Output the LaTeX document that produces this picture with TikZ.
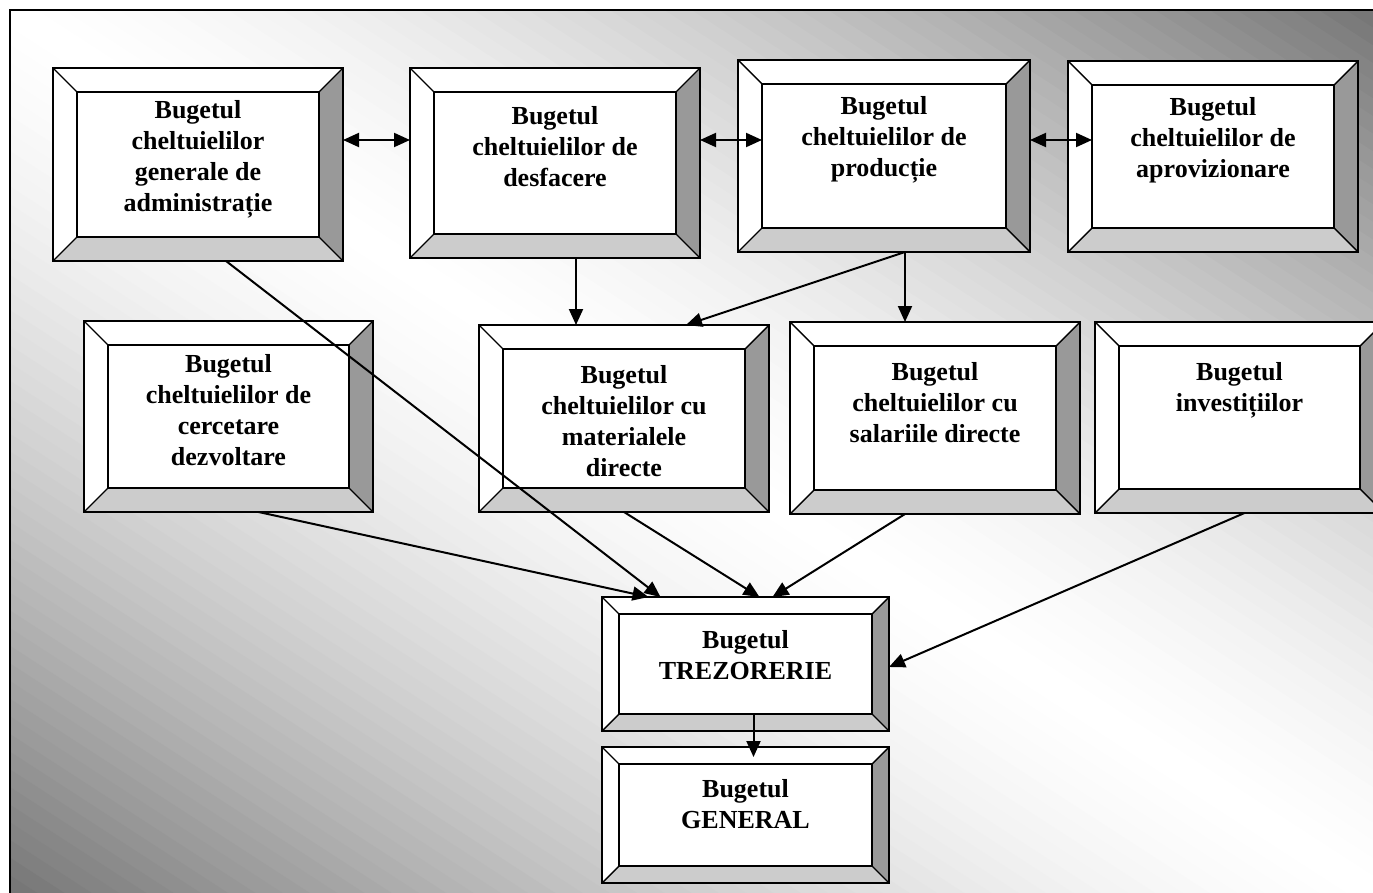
\documentclass[tikz,border=0pt]{standalone}
\usepackage{fontspec}
\setmainfont{Liberation Serif}
\usetikzlibrary{calc,arrows.meta}

\definecolor{bgdark}{gray}{0.46}
\definecolor{bevelside}{HTML}{999999}
\definecolor{bevelbottom}{HTML}{CCCCCC}

\tikzset{
  boxshape/.style={rectangle, draw=none, inner sep=0pt, outer sep=0pt},
  boxline/.style={draw=black, line width=2pt},
  bevelline/.style={draw=black, line width=1.4pt},
  boxtext/.style={inner sep=0pt, outer sep=0pt, align=center,
    font=\bfseries\fontsize{26}{31}\selectfont},
  flow/.style={draw=black, line width=2pt, -{Triangle[length=16pt,width=14pt]}},
  twoway/.style={draw=black, line width=2pt,
    {Triangle[length=16pt,width=14pt]}-{Triangle[length=16pt,width=14pt]}},
}

% \bevelbox{name}{x1}{y1}{x2}{y2}{bevel}{text drop}{text}
\newcommand{\bevelbox}[8]{%
  \node[boxshape, minimum width={#4-#2}, minimum height={#5-#3}]
    (#1) at ({(#2+#4)/2},{(#3+#5)/2}) {};
  \node[boxshape, minimum width={#4-#2-2*#6}, minimum height={#5-#3-2*#6}]
    (#1-in) at (#1.center) {};
  \fill[white] (#1.north west) rectangle (#1.south east);
  \fill[bevelside] (#1.north east) -- (#1.south east) -- (#1-in.south east) -- (#1-in.north east) -- cycle;
  \fill[bevelbottom] (#1.south west) -- (#1.south east) -- (#1-in.south east) -- (#1-in.south west) -- cycle;
  \draw[bevelline] (#1.north west) -- (#1-in.north west)
                   (#1.north east) -- (#1-in.north east)
                   (#1.south east) -- (#1-in.south east)
                   (#1.south west) -- (#1-in.south west);
  \draw[boxline] (#1.north west) rectangle (#1.south east);
  \draw[boxline] (#1-in.north west) rectangle (#1-in.south east);
  \node[boxtext, anchor=north] (#1-t) at ([yshift=-#7pt]#1-in.north) {#8};
}

\begin{document}
\begin{tikzpicture}[x=1pt, y=-1pt]
  \path[use as bounding box] (0,0) rectangle (1373,893);
  \clip (0,0) rectangle (1373,893);

  % background panel: light along the main diagonal, darker towards
  % the top-right and bottom-left corners
  \begin{scope}
    \clip (10,10) rectangle (1373,893);
    \foreach \i in {0,...,99} {
      \pgfmathsetmacro{\sa}{-883+\i*17.66}
      \pgfmathsetmacro{\sb}{\sa+18.6}
      \pgfmathsetmacro{\p}{100*(abs(\sa+8.83)/883)^1.5}
      \fill[bgdark!\p!white]
        (0,{3.52+\sa}) -- (1400,{910.5+\sa}) -- (1400,{910.5+\sb}) -- (0,{3.52+\sb}) -- cycle;
    }
  \end{scope}
  \draw[line width=2.5pt] (10,893) -- (10,10) -- (1373,10);

  % first row
  \bevelbox{adm}{53}{68}{343}{261}{24}{8}{Bugetul\\cheltuielilor\\generale de\\administrație}
  \bevelbox{desf}{410}{68}{700}{258}{24}{14}{Bugetul\\cheltuielilor de\\desfacere}
  \bevelbox{prod}{738}{60}{1030}{252}{24}{12}{Bugetul\\cheltuielilor de\\producție}
  \bevelbox{aprov}{1068}{61}{1358}{252}{24}{12}{Bugetul\\cheltuielilor de\\aprovizionare}

  % second row
  \bevelbox{cerc}{84}{321}{373}{512}{24}{9}{Bugetul\\cheltuielilor de\\cercetare\\dezvoltare}
  \bevelbox{mat}{479}{325}{769}{512}{24}{16}{Bugetul\\cheltuielilor cu\\materialele\\directe}
  \bevelbox{sal}{790}{322}{1080}{514}{24}{16}{Bugetul\\cheltuielilor cu\\salariile directe}
  \bevelbox{inv}{1095}{322}{1384}{513}{24}{16}{Bugetul\\investițiilor}

  % bottom column
  \bevelbox{trez}{602}{597}{889}{731}{17}{16}{Bugetul\\TREZORERIE}
  \bevelbox{gen}{602}{747}{889}{883}{17}{15}{Bugetul\\GENERAL}

  % links between the first-row budgets
  \coordinate (rowA) at (0,140);
  \draw[twoway] (adm.east |- rowA) -- (desf.west |- rowA);
  \draw[twoway] (desf.east |- rowA) -- (prod-in.west |- rowA);
  \draw[twoway] (prod.east |- rowA) -- (aprov-in.west |- rowA);

  % first row to second row
  \draw[flow] ([xshift=21pt]desf.south) -- ([xshift=21pt]desf.south |- mat.north);
  \draw[flow] ([xshift=21pt]prod.south) -- ([xshift=62pt]mat.north);
  \draw[flow] ([xshift=21pt]prod.south) -- ([xshift=21pt]prod.south |- sal.north);

  % into the treasury budget
  \draw[flow] ([xshift=28pt]adm.south) -- ([xshift=-85pt]trez.north);
  \draw[flow] ([xshift=30pt]cerc.south) -- ([xshift=-97pt]trez.north);
  \draw[flow] (mat.south) -- ([xshift=14pt]trez.north);
  \draw[flow] ([xshift=-30pt]sal.south) -- ([xshift=27pt]trez.north);
  \draw[flow] ([xshift=5pt]inv.south) -- ([yshift=-3pt]trez.east);

  % treasury to general budget
  \draw[flow] ([xshift=8pt]trez-in.south) -- ([xshift=8pt,yshift=-10pt]gen.north);
\end{tikzpicture}
\end{document}
